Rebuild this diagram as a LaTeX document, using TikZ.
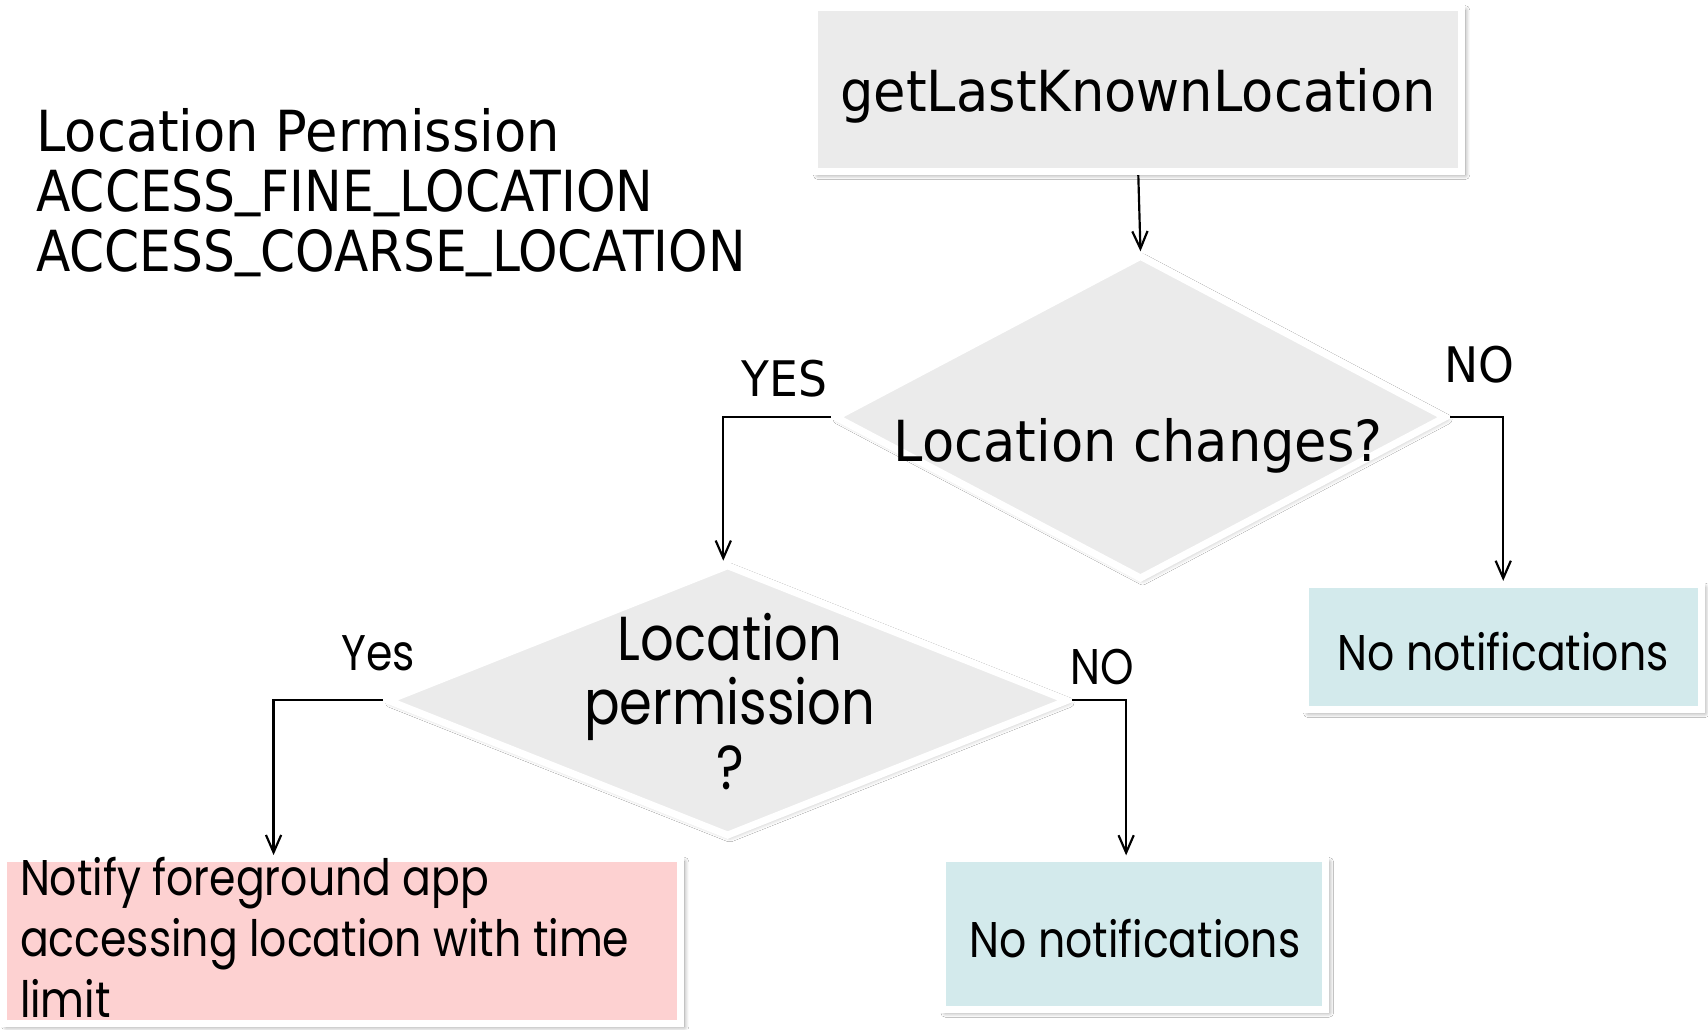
\documentclass[tikz,border=0pt]{standalone}
\usepackage{fontspec}
\setmainfont{DejaVu Sans}[FakeStretch=0.93]
\newfontfamily\fut{Poppins}[FakeStretch=0.85]
\usetikzlibrary{shapes.geometric,arrows.meta,shadows.blur,calc}
\definecolor{boxgray}{HTML}{EBEBEB}
\definecolor{boxblue}{HTML}{D3EAEC}
\definecolor{boxpink}{HTML}{FDD1D1}
\newcommand\myus{\raisebox{0.13em}{\_}}
\begin{document}
\begin{tikzpicture}[x=0.5pt,y=-0.5pt,
  shadowed/.style={blur shadow={shadow xshift=1.5pt,shadow yshift=-1.5pt,shadow blur steps=6,shadow opacity=45}},
  boxbase/.style={rectangle,draw=white,line width=3.25pt,inner sep=0pt,shadowed},
  graybox/.style={boxbase,fill=boxgray},
  bluebox/.style={boxbase,fill=boxblue},
  pinkbox/.style={boxbase,fill=boxpink},
  dia/.style={diamond,draw=white,line width=3.25pt,fill=boxgray,inner sep=0pt,
    blur shadow={shadow xshift=1pt,shadow yshift=-1pt,shadow blur steps=5,shadow opacity=30}},
  arr/.style={draw=black,line width=1pt,-{Straight Barb[length=8pt,width=7pt]}},
  big/.style={font=\fontsize{26}{27.5}\selectfont},
  lbl/.style={font=\fontsize{22.5}{27}\selectfont},
  futt/.style={font=\fut\fontsize{23}{28}\selectfont},
  futbig/.style={font=\fut\fontsize{28.5}{29.5}\selectfont},
]
\useasboundingbox (0,0) rectangle (1568,945);
\fill[white] (0,0) rectangle (1568,945);

% left text
\node[big,align=left,anchor=north west,inner sep=0pt] (perm) at (33,99)
  {Location Permission\\\scalebox{0.955}[1]{ACCESS\myus FINE\myus LOCATION}\\\scalebox{0.953}[1]{ACCESS\myus COARSE\myus LOCATION}};

% shapes
\node[graybox,minimum width=297pt,minimum height=75.5pt] (top) at (1045,82) {};
\node[big] (toptext) at (1045,88) {getLastKnownLocation};

\node[dia,minimum width=281pt,minimum height=149pt] (d1) at (1047,383) {};
\node[big] (d1text) at (1045,409) {Location changes?};

\node[bluebox,minimum width=182pt,minimum height=57.5pt] (nr) at (1380,594) {};
\node[futt] (nrtext) at (1380,598) {No notifications};

\node[dia,minimum width=313pt,minimum height=125pt] (d2) at (668,643) {};
\node[futbig,align=center] (d2text) at (670,644) {Location\\permission\\?};

\node[pinkbox,minimum width=311pt,minimum height=75.75pt] (pink) at (314,864) {};
\node[futt,align=left,anchor=north west,inner sep=0pt] (pinktext) at (18,787)
  {Notify foreground app\\accessing location with time\\limit};

\node[bluebox,minimum width=176pt,minimum height=69pt] (nb) at (1041,857.5) {};
\node[futt] (nbtext) at (1042,862) {No notifications};

% labels
\node[lbl] (yes1) at (720,348) {YES};
\node[lbl] (no1) at (1358,335) {NO};
\node[futt] (yes2) at (347,600) {Yes};
\node[futt] (no2) at (1012,612) {NO};

% connectors
\draw[arr] (top.south) -- (d1.north);
\draw[arr] (d1.west) -| ([xshift=-2pt]d2.north);
\draw[arr] (d1.east) -| (nr.north);
\draw[arr] (d2.west) -| ($(pink.north west)!0.4!(pink.north east)$);
\draw[arr] (d2.east) -| ($(nb.north west)!0.48!(nb.north east)$);
\end{tikzpicture}
\end{document}
